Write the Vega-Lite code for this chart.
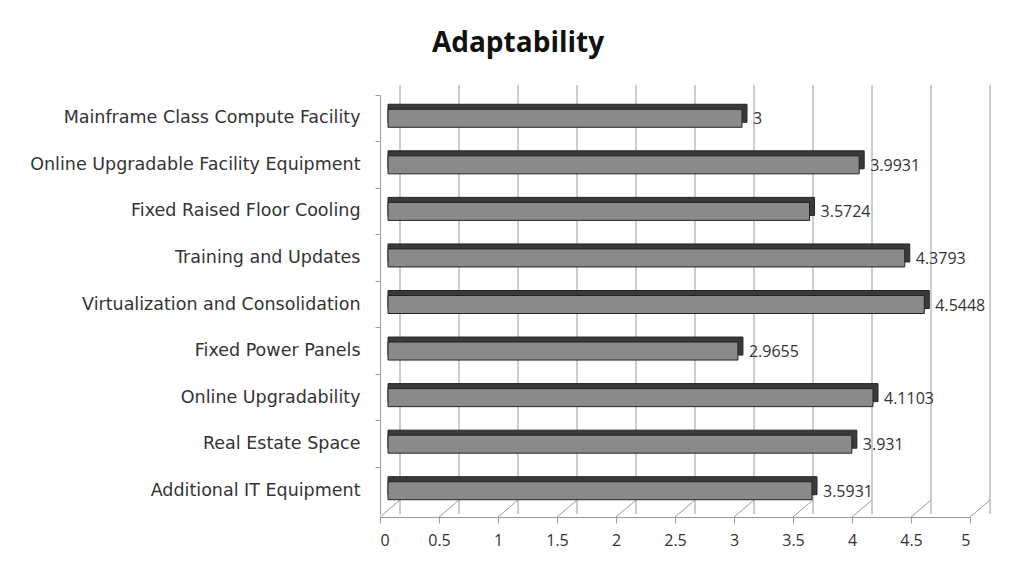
{
  "$schema": "https://vega.github.io/schema/vega-lite/v6.json",
  "autosize": "none",
  "width": 590,
  "height": 419,
  "padding": {"left": 380, "top": 95, "right": 48, "bottom": 49},
  "background": "white",
  "config": {"view": {"stroke": null}, "font": "DejaVu Sans"},
  "title": {"text": "Adaptability", "font": "Open Sans", "fontSize": 28, "fontWeight": "bold", "color": "#111", "anchor": "middle", "dx": -157, "offset": 27},
  "datasets": {
    "bars": [
      {"cat": "Mainframe Class Compute Facility", "v": 3, "label": "3"},
      {"cat": "Online Upgradable Facility Equipment", "v": 3.9931, "label": "3.9931"},
      {"cat": "Fixed Raised Floor Cooling", "v": 3.5724, "label": "3.5724"},
      {"cat": "Training and Updates", "v": 4.3793, "label": "4.3793"},
      {"cat": "Virtualization and Consolidation", "v": 4.5448, "label": "4.5448"},
      {"cat": "Fixed Power Panels", "v": 2.9655, "label": "2.9655"},
      {"cat": "Online Upgradability", "v": 4.1103, "label": "4.1103"},
      {"cat": "Real Estate Space", "v": 3.931, "label": "3.931"},
      {"cat": "Additional IT Equipment", "v": 3.5931, "label": "3.5931"}
    ],
    "grid": [
      {"g": 0}, {"g": 0.5}, {"g": 1}, {"g": 1.5}, {"g": 2}, {"g": 2.5},
      {"g": 3}, {"g": 3.5}, {"g": 4}, {"g": 4.5}, {"g": 5}
    ]
  },
  "layer": [
    {
      "data": {"name": "grid"},
      "mark": {"type": "rule", "color": "#9a9a9a", "strokeWidth": 1, "xOffset": 20, "yOffset": -10, "y2Offset": -14},
      "encoding": {
        "x": {"field": "g", "type": "quantitative", "scale": {"domain": [0, 5], "nice": false, "zero": true},
          "axis": {"values": [0, 0.5, 1, 1.5, 2, 2.5, 3, 3.5, 4, 4.5, 5], "format": "~g", "title": null, "grid": false, "offset": 3,
            "domainColor": "#9a9a9a", "tickColor": "#9a9a9a", "tickSize": 6, "labelFontSize": 16, "labelColor": "#333", "labelPadding": 9, "labelFont": "Open Sans"}}
      }
    },
    {
      "data": {"name": "grid"},
      "mark": {"type": "rule", "color": "#9a9a9a", "strokeWidth": 1, "x2Offset": 20},
      "encoding": {
        "x": {"field": "g", "type": "quantitative"},
        "x2": {"field": "g"},
        "y": {"value": {"expr": "height+3"}},
        "y2": {"value": {"expr": "height-14"}}
      }
    },
    {
      "data": {"name": "bars"},
      "mark": {"type": "bar", "color": "#3a3a3a", "stroke": "#222", "strokeWidth": 1, "height": 18, "xOffset": 13, "yOffset": -5, "x2Offset": 8},
      "encoding": {
        "y": {"field": "cat", "type": "nominal", "sort": null, "scale": {"paddingInner": 0, "paddingOuter": 0},
          "axis": {"title": null, "domainColor": "#9a9a9a", "tickColor": "#9a9a9a", "tickSize": 5, "bandPosition": 0,
            "labelFontSize": 17.5, "labelColor": "#333", "labelPadding": 15, "labelFont": "DejaVu Sans", "labelLimit": 400}},
        "x": {"field": "v", "type": "quantitative"},
        "x2": {"datum": 0}
      }
    },
    {
      "data": {"name": "bars"},
      "mark": {"type": "bar", "color": "#8a8a8a", "stroke": "#222", "strokeWidth": 1, "height": 18, "xOffset": 8, "x2Offset": 8},
      "encoding": {
        "y": {"field": "cat", "type": "nominal", "sort": null},
        "x": {"field": "v", "type": "quantitative"},
        "x2": {"datum": 0}
      }
    },
    {
      "data": {"name": "bars"},
      "mark": {"type": "text", "align": "left", "baseline": "middle", "dx": 19, "dy": 1, "fontSize": 16, "color": "#333", "font": "Open Sans"},
      "encoding": {
        "y": {"field": "cat", "type": "nominal", "sort": null},
        "x": {"field": "v", "type": "quantitative"},
        "text": {"field": "label"}
      }
    }
  ]
}
